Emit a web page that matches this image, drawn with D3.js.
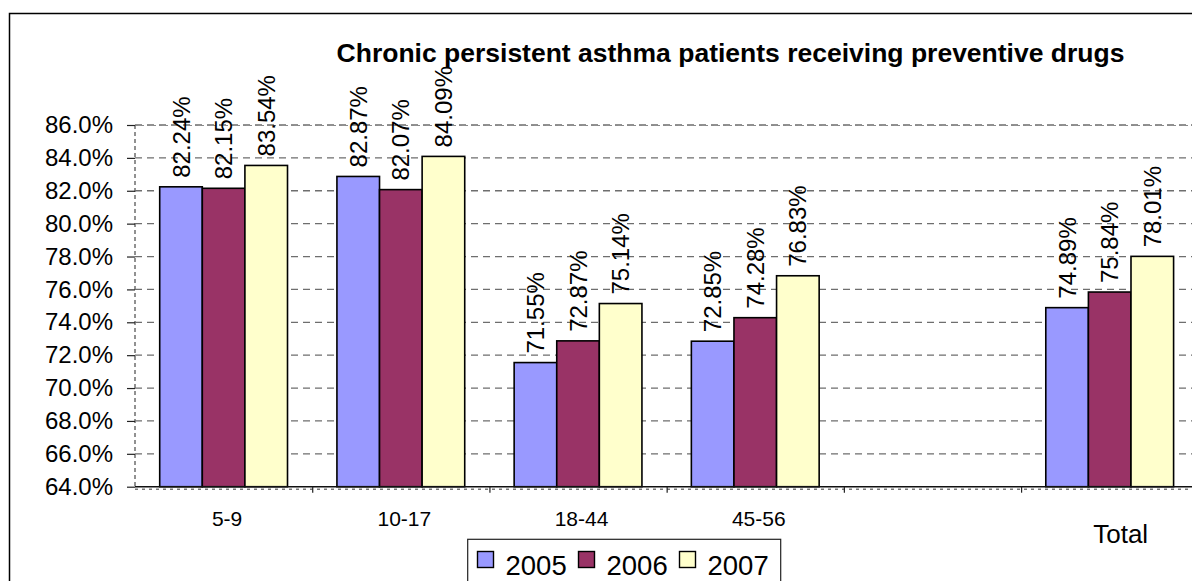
<!DOCTYPE html>
<html>
<head>
<meta charset="utf-8">
<script src="https://cdn.jsdelivr.net/npm/d3@7/dist/d3.min.js"></script>
<style>
  html, body { margin: 0; padding: 0; background: #fff; }
  svg { display: block; font-family: Arial, "Liberation Sans", sans-serif; }
</style>
</head>
<body>
<svg id="chart" width="1192" height="581"></svg>
<script>
// Age groups (the blank slot keeps the gap before the total)
const categories = ["5-9", "10-17", "18-44", "45-56", "", "Total"];
const years = ["2005", "2006", "2007"];
// Share of patients receiving preventive drugs, in percent
const values2005 = [82.24, 82.87, 71.55, 72.85, null, 74.89];
const values2006 = [82.15, 82.07, 72.87, 74.28, null, 75.84];
const values2007 = [83.54, 84.09, 75.14, 76.83, null, 78.01];
const yTicks = [64, 66, 68, 70, 72, 74, 76, 78, 80, 82, 84, 86];
const colors = ["#9999FF", "#993366", "#FFFFCC"];
const title = "Chronic persistent asthma patients receiving preventive drugs";

const series = [values2005, values2006, values2007];

const svg = d3.select("#chart");

// outer chart frame
svg.append("rect")
  .attr("x", 9.5).attr("y", 13.5)
  .attr("width", 1200).attr("height", 600)
  .attr("fill", "#fff").attr("stroke", "#000").attr("stroke-width", 1.5);

const plot = { left: 135, right: 1198.3, top: 125, bottom: 486.7 };

const x = d3.scaleBand().domain(d3.range(categories.length))
  .range([plot.left, plot.right]).paddingInner(0).paddingOuter(0);
const xs = d3.scaleBand().domain(d3.range(years.length))
  .range([0, x.bandwidth()]).paddingInner(0).paddingOuter(0.58);
const y = d3.scaleLinear().domain([64, 86]).range([plot.bottom, plot.top]);

// title
svg.append("text")
  .attr("x", 730.5).attr("y", 62)
  .attr("text-anchor", "middle")
  .attr("font-weight", "bold").attr("font-size", 26.5)
  .text(title);

// horizontal gridlines
svg.append("g").selectAll("line")
  .data(yTicks.filter(t => t > 64))
  .join("line")
  .attr("x1", plot.left).attr("x2", plot.right)
  .attr("y1", d => y(d)).attr("y2", d => y(d))
  .attr("stroke", "#6e6e6e").attr("stroke-width", 1.3)
  .attr("stroke-dasharray", "7,5");

// plot area border on top (dashed gray, overlapping the 86% gridline)
svg.append("line")
  .attr("x1", plot.left).attr("x2", plot.right)
  .attr("y1", plot.top + 0.5).attr("y2", plot.top + 0.5)
  .attr("stroke", "#8a8a8a").attr("stroke-width", 1.2)
  .attr("stroke-dasharray", "3,3");

// y axis: dashed gray line with dark outward ticks
svg.append("line")
  .attr("x1", plot.left).attr("x2", plot.left)
  .attr("y1", plot.top).attr("y2", plot.bottom)
  .attr("stroke", "#6e6e6e").attr("stroke-width", 1.5)
  .attr("stroke-dasharray", "4,3");

const yAxis = d3.axisLeft(y).tickValues(yTicks)
  .tickFormat(d => d3.format(".1f")(d) + "%")
  .tickSize(8).tickPadding(14);
const gy = svg.append("g").attr("transform", `translate(${plot.left},0)`).call(yAxis);
gy.select(".domain").remove();
gy.selectAll(".tick line").attr("stroke", "#222").attr("stroke-width", 1.2);
gy.selectAll(".tick text")
  .attr("font-size", 24).attr("fill", "#000")
  .attr("font-family", "Arial, 'Liberation Sans', sans-serif");

// bars
const groups = svg.append("g").selectAll("g")
  .data(categories.map((c, i) => i))
  .join("g")
  .attr("transform", i => `translate(${x(i)},0)`);

groups.selectAll("rect")
  .data(i => series.map((s, k) => ({ k, v: s[i] })).filter(d => d.v != null))
  .join("rect")
  .attr("x", d => xs(d.k))
  .attr("width", xs.bandwidth())
  .attr("y", d => y(d.v))
  .attr("height", d => plot.bottom - y(d.v))
  .attr("fill", d => colors[d.k])
  .attr("stroke", "#000").attr("stroke-width", 1.6);

// value labels, rotated
groups.selectAll("text.val")
  .data(i => series.map((s, k) => ({ k, v: s[i] })).filter(d => d.v != null))
  .join("text")
  .attr("class", "val")
  .attr("transform", d => `translate(${xs(d.k) + xs.bandwidth() / 2},${y(d.v) - 9}) rotate(-90)`)
  .attr("dy", "0.36em")
  .attr("font-size", 24)
  .text(d => d3.format(".2f")(d.v) + "%");

// x axis line: solid dark line with dashed plot border beneath
svg.append("line")
  .attr("x1", plot.left).attr("x2", plot.right)
  .attr("y1", plot.bottom).attr("y2", plot.bottom)
  .attr("stroke", "#111").attr("stroke-width", 1.5);
svg.append("line")
  .attr("x1", plot.left).attr("x2", plot.right)
  .attr("y1", plot.bottom + 2.5).attr("y2", plot.bottom + 2.5)
  .attr("stroke", "#777").attr("stroke-width", 1.5)
  .attr("stroke-dasharray", "3,4");

const xAxis = d3.axisBottom(d3.scaleLinear().domain([0, categories.length]).range([plot.left, plot.right]))
  .tickValues(d3.range(1, categories.length + 1))
  .tickSize(6).tickFormat("");
const gx = svg.append("g").attr("transform", `translate(0,${plot.bottom})`).call(xAxis);
gx.select(".domain").remove();
gx.selectAll(".tick line").attr("stroke", "#222").attr("stroke-width", 1.2);

// category labels
svg.append("g").selectAll("text")
  .data(categories.map((c, i) => ({ c, i })).filter(d => d.c !== ""))
  .join("text")
  .attr("x", d => x(d.i) + x.bandwidth() / 2 + (d.c === "Total" ? 11 : 3.5))
  .attr("y", d => d.c === "Total" ? 543.3 : 525.7)
  .attr("text-anchor", "middle")
  .attr("font-size", d => d.c === "Total" ? 26 : 21)
  .text(d => d.c);

// legend
const legend = svg.append("g");
legend.append("rect")
  .attr("x", 467.7).attr("y", 539.3)
  .attr("width", 313).attr("height", 60)
  .attr("fill", "#fff").attr("stroke", "#222").attr("stroke-width", 1.2);
const items = legend.selectAll("g.item")
  .data(years.map((yr, k) => ({ yr, k })))
  .join("g").attr("class", "item")
  .attr("transform", d => `translate(${477.5 + d.k * 101},551.5)`);
items.append("rect")
  .attr("width", 16).attr("height", 16)
  .attr("fill", d => colors[d.k]).attr("stroke", "#000").attr("stroke-width", 1.4);
items.append("text")
  .attr("x", 28).attr("y", 23)
  .attr("font-size", 27.5)
  .text(d => d.yr);
</script>
</body>
</html>
